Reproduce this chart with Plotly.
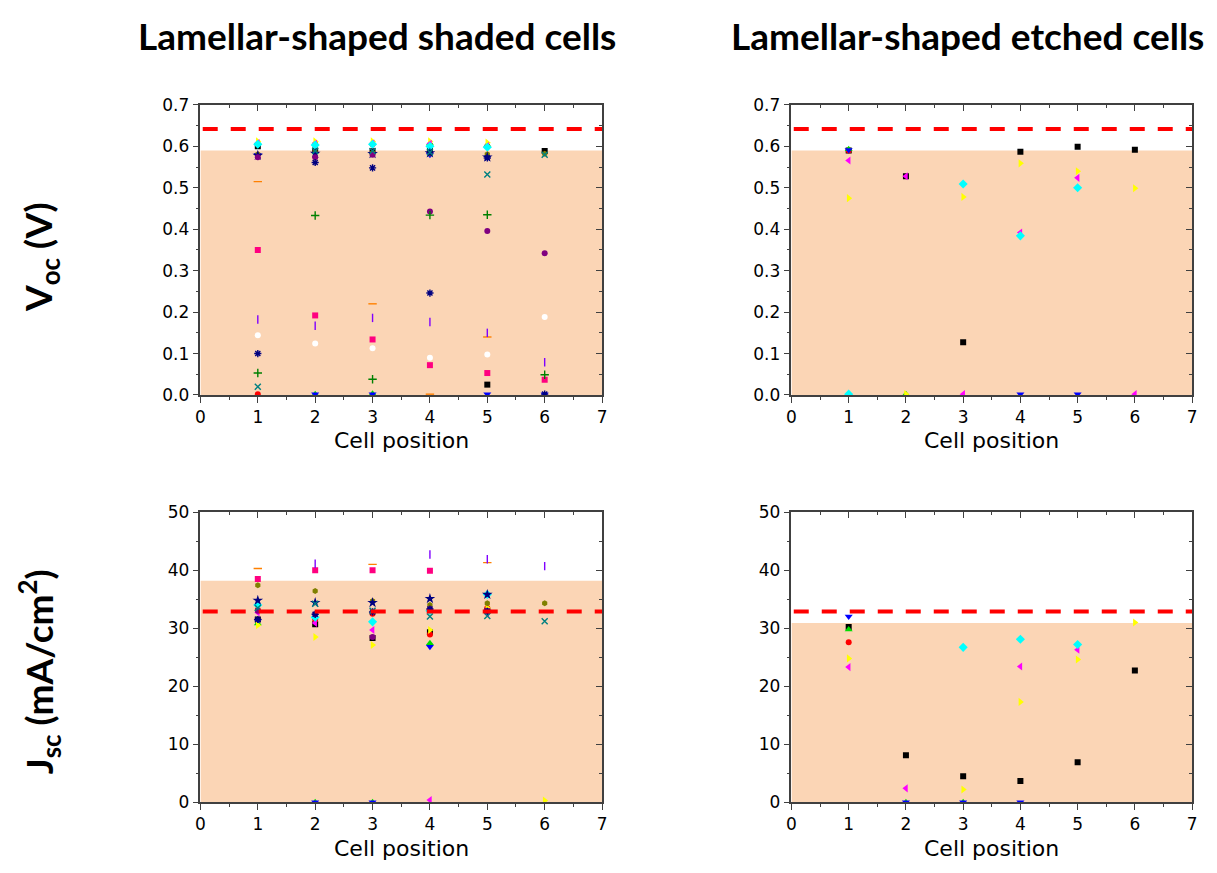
import plotly.graph_objects as go

# page is 1217x873; the default 8px body margin surrounds the figure
PAGE_W, PAGE_H = 1217, 873
BODY_MARGIN = 8
W, H = PAGE_W - 2 * BODY_MARGIN, PAGE_H - 2 * BODY_MARGIN

# ---------------- data ----------------
positions = [1, 2, 3, 4, 5, 6]
x_tick_vals = [0, 1, 2, 3, 4, 5, 6, 7]
voc_tick_vals = [0.0, 0.1, 0.2, 0.3, 0.4, 0.5, 0.6, 0.7]
jsc_tick_vals = [0, 10, 20, 30, 40, 50]

voc_reference = 0.642
jsc_reference = 32.9
voc_shade_top = 0.59
jsc_shade_top_shaded = 38.2
jsc_shade_top_etched = 30.9

# Lamellar-shaped shaded cells, Voc (V)
shaded_voc_black = [0.600, 0.590, 0.588, 0.590, 0.025, 0.589]
shaded_voc_red = [0.002, 0.605, 0.605, 0.603, 0.600, None]
shaded_voc_green = [0.609, 0.002, 0.003, 0.607, 0.603, None]
shaded_voc_blue = [0.580, 0.002, 0.002, 0.580, 0.002, 0.002]
shaded_voc_yellow = [0.612, 0.612, 0.612, 0.612, 0.609, None]
shaded_voc_magenta = [0.608, 0.606, 0.607, 0.606, 0.601, None]
shaded_voc_cyan = [0.605, 0.603, 0.605, 0.600, 0.598, None]
shaded_voc_olive = [0.581, 0.586, 0.584, 0.583, 0.581, 0.582]
shaded_voc_navy_star = [0.578, 0.583, 0.582, 0.584, 0.574, None]
shaded_voc_purple = [0.574, 0.574, 0.580, 0.443, 0.396, 0.342]
shaded_voc_pink = [0.350, 0.192, 0.134, 0.072, 0.053, 0.037]
shaded_voc_white = [0.144, 0.124, 0.113, 0.090, 0.098, 0.188]
shaded_voc_navy_asterisk = [0.100, 0.561, 0.548, 0.246, 0.572, 0.002]
shaded_voc_darkcyan = [0.020, 0.589, 0.589, 0.586, 0.532, 0.580]
shaded_voc_green_plus = [0.053, 0.433, 0.038, 0.434, 0.435, 0.049]
shaded_voc_orange = [0.515, None, 0.220, 0.002, 0.140, None]
shaded_voc_violet = [0.182, 0.167, 0.186, 0.176, 0.150, 0.079]

# Lamellar-shaped shaded cells, Jsc (mA/cm2)
shaded_jsc_black = [31.5, 30.7, 28.3, 29.3, 33.0, None]
shaded_jsc_red = [33.2, 31.5, 32.5, 28.9, 33.5, None]
shaded_jsc_green = [30.8, 0.0, 0.0, 27.4, 33.0, None]
shaded_jsc_blue = [31.3, 0.0, 0.0, 26.8, 32.9, None]
shaded_jsc_yellow = [30.5, 28.5, 27.1, 29.7, 33.5, 0.3]
shaded_jsc_magenta = [32.7, 30.9, 29.7, 0.4, 32.5, None]
shaded_jsc_cyan = [34.0, 31.9, 31.1, 33.0, 35.8, None]
shaded_jsc_olive = [37.4, 36.4, 34.7, 34.0, 34.3, 34.3]
shaded_jsc_navy_star = [34.8, 34.4, 34.4, 35.1, 35.8, None]
shaded_jsc_purple = [33.0, 32.4, 28.5, 33.3, 33.0, None]
shaded_jsc_pink = [38.5, 40.0, 40.0, 39.9, None, None]
shaded_jsc_white = [None, None, None, None, None, None]
shaded_jsc_navy_asterisk = [31.5, 32.4, 32.8, 33.3, 32.9, None]
shaded_jsc_darkcyan = [33.5, 34.2, 33.0, 32.0, 32.1, 31.2]
shaded_jsc_green_plus = [None, None, None, None, None, None]
shaded_jsc_orange = [40.3, None, 41.0, None, 41.3, None]
shaded_jsc_violet = [None, 41.1, None, 42.7, 41.9, 40.7]

# Lamellar-shaped etched cells, Voc (V)
etched_voc_black = [0.590, 0.528, 0.127, 0.587, 0.599, 0.592]
etched_voc_red = [0.590, None, None, None, None, None]
etched_voc_green = [0.593, 0.002, None, None, None, None]
etched_voc_blue = [0.591, None, None, 0.002, 0.002, None]
etched_voc_yellow = [0.475, 0.002, 0.478, 0.559, 0.540, 0.499]
etched_voc_magenta = [0.566, 0.528, 0.002, 0.392, 0.524, 0.002]
etched_voc_cyan = [0.002, None, 0.509, 0.384, 0.500, None]

# Lamellar-shaped etched cells, Jsc (mA/cm2)
etched_jsc_black = [30.2, 8.1, 4.5, 3.65, 6.9, 22.7]
etched_jsc_red = [27.6, None, None, None, None, None]
etched_jsc_green = [29.8, 0.0, 0.0, None, None, None]
etched_jsc_blue = [32.0, 0.0, 0.0, 0.0, None, None]
etched_jsc_yellow = [24.8, None, 2.2, 17.3, 24.6, 31.0]
etched_jsc_magenta = [23.3, 2.4, None, 23.4, 26.3, None]
etched_jsc_cyan = [None, None, 26.7, 28.1, 27.2, None]

# ---------------- styles ----------------
styles = {
    "black": dict(symbol="square", color="#000000", size=6),
    "red": dict(symbol="circle", color="#FF0000", size=6),
    "green": dict(symbol="triangle-up", color="#00DD00", size=7),
    "blue": dict(symbol="triangle-down", color="#0000FF", size=7),
    "yellow": dict(symbol="triangle-right", color="#FFFF00", size=7),
    "magenta": dict(symbol="triangle-left", color="#FF00FF", size=7),
    "cyan": dict(symbol="diamond", color="#00FFFF", size=7),
    "olive": dict(symbol="hexagon", color="#808000", size=6),
    "navy_star": dict(symbol="star", color="#000080", size=8),
    "purple": dict(symbol="circle", color="#800080", size=6),
    "pink": dict(symbol="square", color="#FF0080", size=6),
    "white": dict(symbol="circle", color="#FFFFFF", size=6),
    "navy_asterisk": dict(symbol="asterisk-open", color="#000080", size=6),
    "darkcyan": dict(symbol="x-thin-open", color="#008080", size=6),
    "green_plus": dict(symbol="cross-thin-open", color="#008000", size=6),
    "orange": dict(symbol="line-ew-open", color="#FF8000", size=6),
    "violet": dict(symbol="line-ns-open", color="#8000FF", size=6),
}

shaded_voc = {
    "black": shaded_voc_black, "red": shaded_voc_red, "green": shaded_voc_green,
    "blue": shaded_voc_blue, "yellow": shaded_voc_yellow, "magenta": shaded_voc_magenta,
    "cyan": shaded_voc_cyan, "olive": shaded_voc_olive, "navy_star": shaded_voc_navy_star,
    "purple": shaded_voc_purple, "pink": shaded_voc_pink, "white": shaded_voc_white,
    "navy_asterisk": shaded_voc_navy_asterisk, "darkcyan": shaded_voc_darkcyan,
    "green_plus": shaded_voc_green_plus, "orange": shaded_voc_orange, "violet": shaded_voc_violet,
}
shaded_jsc = {
    "black": shaded_jsc_black, "red": shaded_jsc_red, "green": shaded_jsc_green,
    "blue": shaded_jsc_blue, "yellow": shaded_jsc_yellow, "magenta": shaded_jsc_magenta,
    "cyan": shaded_jsc_cyan, "olive": shaded_jsc_olive, "navy_star": shaded_jsc_navy_star,
    "purple": shaded_jsc_purple, "pink": shaded_jsc_pink, "white": shaded_jsc_white,
    "navy_asterisk": shaded_jsc_navy_asterisk, "darkcyan": shaded_jsc_darkcyan,
    "green_plus": shaded_jsc_green_plus, "orange": shaded_jsc_orange, "violet": shaded_jsc_violet,
}
etched_voc = {
    "black": etched_voc_black, "red": etched_voc_red, "green": etched_voc_green,
    "blue": etched_voc_blue, "yellow": etched_voc_yellow, "magenta": etched_voc_magenta,
    "cyan": etched_voc_cyan,
}
etched_jsc = {
    "black": etched_jsc_black, "red": etched_jsc_red, "green": etched_jsc_green,
    "blue": etched_jsc_blue, "yellow": etched_jsc_yellow, "magenta": etched_jsc_magenta,
    "cyan": etched_jsc_cyan,
}

# ---------------- figure ----------------
AX = "#404040"
TICKFONT = dict(family="DejaVu Sans", size=17, color="black")


def px_x(p):
    return (p - BODY_MARGIN) / W


def px_y(p):
    return 1 - (p - BODY_MARGIN) / H


x_dom_left = [px_x(197), px_x(602)]
x_dom_right = [px_x(793), px_x(1197)]
y_dom_top = [px_y(394), px_y(97)]
y_dom_bottom = [px_y(811), px_y(514)]

panels = [
    (1, shaded_voc, x_dom_left, y_dom_top, [0, 0.7], voc_tick_vals, ".1f", 0.05, voc_shade_top, voc_reference),
    (2, etched_voc, x_dom_right, y_dom_top, [0, 0.7], voc_tick_vals, ".1f", 0.05, voc_shade_top, voc_reference),
    (3, shaded_jsc, x_dom_left, y_dom_bottom, [0, 50], jsc_tick_vals, "d", 5, jsc_shade_top_shaded, jsc_reference),
    (4, etched_jsc, x_dom_right, y_dom_bottom, [0, 50], jsc_tick_vals, "d", 5, jsc_shade_top_etched, jsc_reference),
]

fig = go.Figure()
shapes = []
layout_axes = {}

for idx, data, xd, yd, yr, yt, yfmt, yminor, shade_top, ref in panels:
    xa = "x" if idx == 1 else f"x{idx}"
    ya = "y" if idx == 1 else f"y{idx}"
    for name, vals in data.items():
        st = styles[name]
        open_sym = st["symbol"].endswith("-open")
        fig.add_trace(go.Scatter(
            x=positions, y=vals, mode="markers", xaxis=xa, yaxis=ya,
            showlegend=False, hoverinfo="skip",
            marker=dict(symbol=st["symbol"], size=st["size"], color=st["color"],
                        line=dict(width=1.4 if open_sym else 0, color=st["color"])),
        ))
    mi = idx + 4
    fig.add_trace(go.Scatter(x=[None], y=[None], xaxis=f"x{mi}", yaxis=f"y{mi}",
                             showlegend=False, hoverinfo="skip"))

    common_line = dict(showline=True, linecolor=AX, linewidth=1.5, showgrid=False,
                       zeroline=False, tickcolor=AX, tickwidth=1.2)
    xkey = "xaxis" if idx == 1 else f"xaxis{idx}"
    ykey = "yaxis" if idx == 1 else f"yaxis{idx}"
    layout_axes[xkey] = dict(
        domain=xd, anchor=ya, range=[0, 7], tickmode="array", tickvals=x_tick_vals,
        ticks="outside", ticklen=6, tickfont=TICKFONT,
        minor=dict(ticks="outside", ticklen=3, dtick=0.5, tick0=0, tickcolor=AX, tickwidth=1),
        **common_line)
    layout_axes[ykey] = dict(
        domain=yd, anchor=xa, range=yr, tickmode="array", tickvals=yt, tickformat=yfmt,
        ticks="outside", ticklen=6, tickfont=TICKFONT,
        minor=dict(ticks="outside", ticklen=3, dtick=yminor, tick0=0, tickcolor=AX, tickwidth=1),
        **common_line)
    layout_axes[f"xaxis{mi}"] = dict(
        overlaying=xa, side="top", anchor=f"y{mi}", range=[0, 7], tickmode="array",
        tickvals=x_tick_vals, ticks="inside", ticklen=6, showticklabels=False,
        minor=dict(ticks="inside", ticklen=3, dtick=0.5, tick0=0, tickcolor=AX, tickwidth=1),
        **common_line)
    layout_axes[f"yaxis{mi}"] = dict(
        overlaying=ya, side="right", anchor=f"x{mi}", range=yr, tickmode="array",
        tickvals=yt, ticks="inside", ticklen=6, showticklabels=False,
        minor=dict(ticks="inside", ticklen=3, dtick=yminor, tick0=0, tickcolor=AX, tickwidth=1),
        **common_line)

    shapes.append(dict(type="rect", xref=xa, yref=ya, x0=0, x1=7, y0=0, y1=shade_top,
                       fillcolor="#FBD5B5", line=dict(width=0), layer="below"))
    shapes.append(dict(type="line", xref=xa, yref=ya, x0=0.04, x1=7, y0=ref, y1=ref,
                       line=dict(color="#FF0000", width=4, dash="15px,13px"), layer="above"))

TITLE_FONT = dict(family="Lato, Open Sans", size=37, color="black")
LABEL_FONT = dict(family="DejaVu Sans", size=22, color="black")

annotations = [
    dict(text="<b>Lamellar-shaped shaded cells</b>", x=px_x(375), y=px_y(26), font=TITLE_FONT),
    dict(text="<b>Lamellar-shaped etched cells</b>", x=px_x(971), y=px_y(26), font=TITLE_FONT),
    dict(text="<b>V<sub>oc</sub> (V)</b>", x=px_x(36), y=px_y(253), font=TITLE_FONT, textangle=-90),
    dict(text="<b>J<sub>sc</sub> (mA/cm<sup>2</sup>)</b>", x=px_x(34), y=px_y(677), font=TITLE_FONT, textangle=-90),
    dict(text="Cell position", x=px_x(400), y=px_y(441), font=LABEL_FONT),
    dict(text="Cell position", x=px_x(995), y=px_y(441), font=LABEL_FONT),
    dict(text="Cell position", x=px_x(400), y=px_y(858), font=LABEL_FONT),
    dict(text="Cell position", x=px_x(995), y=px_y(858), font=LABEL_FONT),
]
for a in annotations:
    a.update(xref="paper", yref="paper", xanchor="center", yanchor="middle", showarrow=False)

fig.update_layout(
    width=W, height=H, autosize=False,
    margin=dict(l=0, r=0, t=0, b=0, pad=0),
    paper_bgcolor="white", plot_bgcolor="white",
    shapes=shapes, annotations=annotations,
    **layout_axes,
)

fig.write_html("out.html", config={"displayModeBar": False})
